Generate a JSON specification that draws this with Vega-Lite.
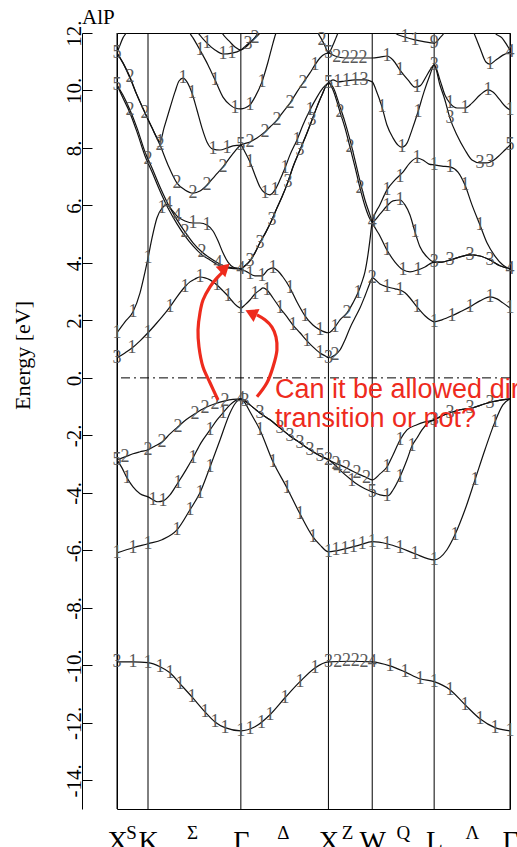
{
  "$schema": "https://vega.github.io/schema/vega-lite/v6.json",
  "width": 393,
  "height": 776,
  "autosize": {"type": "none"},
  "padding": {"left": 117, "top": 33, "right": 7, "bottom": 38},
  "background": "white",
  "datasets": {
    "sym": [{"k": 0}, {"k": 0.354}, {"k": 1.414}, {"k": 2.414}, {"k": 2.914}, {"k": 3.621}, {"k": 4.487}],
    "fermi": [{"E": 0}],
    "heading": [{"k": -0.40, "E": 12.31, "t": "AlP"}],
    "bands": [
      {"b":"v0","k":0,"E":-9.88},{"b":"v0","k":0.183,"E":-9.88},{"b":"v0","k":0.354,"E":-9.91},{"b":"v0","k":0.491,"E":-10.05},{"b":"v0","k":0.605,"E":-10.26},{"b":"v0","k":0.719,"E":-10.64},{"b":"v0","k":0.856,"E":-11.10},{"b":"v0","k":1.005,"E":-11.62},{"b":"v0","k":1.119,"E":-11.97},{"b":"v0","k":1.233,"E":-12.17},{"b":"v0","k":1.414,"E":-12.28},{"b":"v0","k":1.575,"E":-12.14},{"b":"v0","k":1.747,"E":-11.72},{"b":"v0","k":1.918,"E":-11.13},{"b":"v0","k":2.089,"E":-10.57},{"b":"v0","k":2.260,"E":-10.09},{"b":"v0","k":2.414,"E":-9.88},{"b":"v0","k":2.66,"E":-9.86},{"b":"v0","k":2.914,"E":-9.88},{"b":"v0","k":3.116,"E":-10.02},{"b":"v0","k":3.288,"E":-10.23},{"b":"v0","k":3.459,"E":-10.47},{"b":"v0","k":3.621,"E":-10.57},{"b":"v0","k":3.801,"E":-10.85},{"b":"v0","k":3.973,"E":-11.37},{"b":"v0","k":4.144,"E":-11.86},{"b":"v0","k":4.315,"E":-12.17},{"b":"v0","k":4.487,"E":-12.28},

      {"b":"v1","k":0,"E":-6.09},{"b":"v1","k":0.183,"E":-5.91},{"b":"v1","k":0.354,"E":-5.77},{"b":"v1","k":0.514,"E":-5.63},{"b":"v1","k":0.685,"E":-5.29},{"b":"v1","k":0.833,"E":-4.59},{"b":"v1","k":0.947,"E":-4.00},{"b":"v1","k":1.062,"E":-3.10},{"b":"v1","k":1.176,"E":-2.16},{"b":"v1","k":1.290,"E":-1.22},{"b":"v1","k":1.347,"E":-0.90},{"b":"v1","k":1.414,"E":-0.73},{"b":"v1","k":1.461,"E":-0.87},{"b":"v1","k":1.518,"E":-1.18},{"b":"v1","k":1.632,"E":-1.81},{"b":"v1","k":1.781,"E":-2.92},{"b":"v1","k":1.941,"E":-3.83},{"b":"v1","k":2.089,"E":-4.73},{"b":"v1","k":2.237,"E":-5.53},{"b":"v1","k":2.317,"E":-5.81},{"b":"v1","k":2.414,"E":-6.05},{"b":"v1","k":2.603,"E":-5.95},{"b":"v1","k":2.774,"E":-5.81},{"b":"v1","k":2.914,"E":-5.70},{"b":"v1","k":3.082,"E":-5.77},{"b":"v1","k":3.231,"E":-5.91},{"b":"v1","k":3.402,"E":-6.12},{"b":"v1","k":3.621,"E":-6.33},{"b":"v1","k":3.767,"E":-5.98},{"b":"v1","k":3.858,"E":-5.46},{"b":"v1","k":3.973,"E":-4.59},{"b":"v1","k":4.087,"E":-3.55},{"b":"v1","k":4.201,"E":-2.50},{"b":"v1","k":4.315,"E":-1.53},{"b":"v1","k":4.406,"E":-0.94},{"b":"v1","k":4.487,"E":-0.73},

      {"b":"v2","k":0,"E":-2.85},{"b":"v2","k":0.057,"E":-3.13},{"b":"v2","k":0.114,"E":-3.48},{"b":"v2","k":0.183,"E":-3.79},{"b":"v2","k":0.263,"E":-4.03},{"b":"v2","k":0.354,"E":-4.14},{"b":"v2","k":0.468,"E":-4.31},{"b":"v2","k":0.525,"E":-4.28},{"b":"v2","k":0.605,"E":-4.07},{"b":"v2","k":0.696,"E":-3.65},{"b":"v2","k":0.788,"E":-3.20},{"b":"v2","k":0.868,"E":-2.78},{"b":"v2","k":0.959,"E":-2.26},{"b":"v2","k":1.062,"E":-1.81},{"b":"v2","k":1.142,"E":-1.46},{"b":"v2","k":1.210,"E":-1.22},{"b":"v2","k":1.290,"E":-0.94},{"b":"v2","k":1.347,"E":-0.80},{"b":"v2","k":1.414,"E":-0.73},{"b":"v2","k":1.461,"E":-0.80},{"b":"v2","k":1.518,"E":-0.94},{"b":"v2","k":1.632,"E":-1.22},{"b":"v2","k":1.747,"E":-1.46},{"b":"v2","k":1.861,"E":-1.74},{"b":"v2","k":1.975,"E":-2.02},{"b":"v2","k":2.089,"E":-2.26},{"b":"v2","k":2.203,"E":-2.50},{"b":"v2","k":2.317,"E":-2.71},{"b":"v2","k":2.414,"E":-2.85},{"b":"v2","k":2.489,"E":-3.03},{"b":"v2","k":2.568,"E":-3.27},{"b":"v2","k":2.660,"E":-3.51},{"b":"v2","k":2.751,"E":-3.72},{"b":"v2","k":2.831,"E":-3.86},{"b":"v2","k":2.914,"E":-3.97},{"b":"v2","k":3.002,"E":-4.07},{"b":"v2","k":3.094,"E":-4.10},{"b":"v2","k":3.151,"E":-3.90},{"b":"v2","k":3.231,"E":-3.44},{"b":"v2","k":3.311,"E":-2.85},{"b":"v2","k":3.368,"E":-2.37},{"b":"v2","k":3.425,"E":-2.09},{"b":"v2","k":3.482,"E":-1.81},{"b":"v2","k":3.550,"E":-1.57},{"b":"v2","k":3.621,"E":-1.46},{"b":"v2","k":3.710,"E":-1.32},{"b":"v2","k":3.801,"E":-1.22},{"b":"v2","k":3.916,"E":-1.11},{"b":"v2","k":4.064,"E":-1.04},{"b":"v2","k":4.201,"E":-0.90},{"b":"v2","k":4.338,"E":-0.80},{"b":"v2","k":4.487,"E":-0.73},

      {"b":"v3","k":0,"E":-2.85},{"b":"v3","k":0.091,"E":-2.75},{"b":"v3","k":0.183,"E":-2.64},{"b":"v3","k":0.263,"E":-2.57},{"b":"v3","k":0.354,"E":-2.50},{"b":"v3","k":0.434,"E":-2.37},{"b":"v3","k":0.514,"E":-2.23},{"b":"v3","k":0.605,"E":-1.95},{"b":"v3","k":0.696,"E":-1.70},{"b":"v3","k":0.788,"E":-1.46},{"b":"v3","k":0.890,"E":-1.25},{"b":"v3","k":1.005,"E":-1.04},{"b":"v3","k":1.119,"E":-0.90},{"b":"v3","k":1.233,"E":-0.80},{"b":"v3","k":1.324,"E":-0.75},{"b":"v3","k":1.414,"E":-0.73},{"b":"v3","k":1.461,"E":-0.80},{"b":"v3","k":1.518,"E":-0.94},{"b":"v3","k":1.632,"E":-1.22},{"b":"v3","k":1.747,"E":-1.46},{"b":"v3","k":1.861,"E":-1.74},{"b":"v3","k":1.975,"E":-2.02},{"b":"v3","k":2.089,"E":-2.26},{"b":"v3","k":2.203,"E":-2.50},{"b":"v3","k":2.317,"E":-2.71},{"b":"v3","k":2.414,"E":-2.85},{"b":"v3","k":2.489,"E":-2.96},{"b":"v3","k":2.568,"E":-3.06},{"b":"v3","k":2.660,"E":-3.20},{"b":"v3","k":2.751,"E":-3.34},{"b":"v3","k":2.831,"E":-3.44},{"b":"v3","k":2.914,"E":-3.55},{"b":"v3","k":3.002,"E":-3.34},{"b":"v3","k":3.082,"E":-3.10},{"b":"v3","k":3.151,"E":-2.68},{"b":"v3","k":3.231,"E":-2.16},{"b":"v3","k":3.311,"E":-1.81},{"b":"v3","k":3.425,"E":-1.63},{"b":"v3","k":3.516,"E":-1.53},{"b":"v3","k":3.621,"E":-1.46},{"b":"v3","k":3.710,"E":-1.32},{"b":"v3","k":3.801,"E":-1.22},{"b":"v3","k":3.916,"E":-1.11},{"b":"v3","k":4.064,"E":-1.04},{"b":"v3","k":4.201,"E":-0.90},{"b":"v3","k":4.338,"E":-0.80},{"b":"v3","k":4.487,"E":-0.73},

      {"b":"c0","k":0,"E":0.70},{"b":"c0","k":0.091,"E":0.87},{"b":"c0","k":0.171,"E":1.04},{"b":"c0","k":0.263,"E":1.29},{"b":"c0","k":0.354,"E":1.57},{"b":"c0","k":0.434,"E":1.84},{"b":"c0","k":0.514,"E":2.12},{"b":"c0","k":0.605,"E":2.47},{"b":"c0","k":0.685,"E":2.82},{"b":"c0","k":0.776,"E":3.17},{"b":"c0","k":0.833,"E":3.34},{"b":"c0","k":0.890,"E":3.44},{"b":"c0","k":0.947,"E":3.51},{"b":"c0","k":1.005,"E":3.48},{"b":"c0","k":1.062,"E":3.41},{"b":"c0","k":1.142,"E":3.23},{"b":"c0","k":1.210,"E":3.03},{"b":"c0","k":1.267,"E":2.85},{"b":"c0","k":1.324,"E":2.64},{"b":"c0","k":1.370,"E":2.50},{"b":"c0","k":1.414,"E":2.43},{"b":"c0","k":1.461,"E":2.54},{"b":"c0","k":1.518,"E":2.71},{"b":"c0","k":1.575,"E":2.92},{"b":"c0","k":1.632,"E":3.06},{"b":"c0","k":1.667,"E":3.13},{"b":"c0","k":1.712,"E":3.06},{"b":"c0","k":1.781,"E":2.78},{"b":"c0","k":1.861,"E":2.43},{"b":"c0","k":1.941,"E":2.12},{"b":"c0","k":2.009,"E":1.84},{"b":"c0","k":2.089,"E":1.57},{"b":"c0","k":2.169,"E":1.29},{"b":"c0","k":2.237,"E":1.08},{"b":"c0","k":2.317,"E":0.87},{"b":"c0","k":2.374,"E":0.77},{"b":"c0","k":2.414,"E":0.70},{"b":"c0","k":2.489,"E":0.80},{"b":"c0","k":2.546,"E":0.97},{"b":"c0","k":2.603,"E":1.32},{"b":"c0","k":2.660,"E":1.74},{"b":"c0","k":2.717,"E":2.09},{"b":"c0","k":2.774,"E":2.43},{"b":"c0","k":2.831,"E":2.85},{"b":"c0","k":2.888,"E":3.30},{"b":"c0","k":2.914,"E":3.48},{"b":"c0","k":3.002,"E":3.27},{"b":"c0","k":3.082,"E":3.17},{"b":"c0","k":3.174,"E":3.10},{"b":"c0","k":3.231,"E":3.06},{"b":"c0","k":3.288,"E":2.96},{"b":"c0","k":3.345,"E":2.78},{"b":"c0","k":3.425,"E":2.47},{"b":"c0","k":3.516,"E":2.16},{"b":"c0","k":3.573,"E":2.02},{"b":"c0","k":3.621,"E":1.95},{"b":"c0","k":3.710,"E":2.02},{"b":"c0","k":3.824,"E":2.16},{"b":"c0","k":3.938,"E":2.33},{"b":"c0","k":4.030,"E":2.47},{"b":"c0","k":4.144,"E":2.68},{"b":"c0","k":4.258,"E":2.82},{"b":"c0","k":4.338,"E":2.75},{"b":"c0","k":4.406,"E":2.61},{"b":"c0","k":4.487,"E":2.43},

      {"b":"c1","k":0,"E":1.57},{"b":"c1","k":0.091,"E":1.95},{"b":"c1","k":0.183,"E":2.30},{"b":"c1","k":0.263,"E":2.96},{"b":"c1","k":0.320,"E":3.69},{"b":"c1","k":0.354,"E":4.17},{"b":"c1","k":0.400,"E":4.87},{"b":"c1","k":0.457,"E":5.57},{"b":"c1","k":0.514,"E":5.91},{"b":"c1","k":0.571,"E":6.02},{"b":"c1","k":0.628,"E":5.84},{"b":"c1","k":0.685,"E":5.63},{"b":"c1","k":0.776,"E":5.46},{"b":"c1","k":0.868,"E":5.39},{"b":"c1","k":0.947,"E":5.39},{"b":"c1","k":1.027,"E":5.32},{"b":"c1","k":1.096,"E":5.11},{"b":"c1","k":1.153,"E":4.77},{"b":"c1","k":1.210,"E":4.35},{"b":"c1","k":1.267,"E":4.03},{"b":"c1","k":1.324,"E":3.86},{"b":"c1","k":1.414,"E":3.79},{"b":"c1","k":1.484,"E":3.69},{"b":"c1","k":1.575,"E":3.55},{"b":"c1","k":1.655,"E":3.55},{"b":"c1","k":1.724,"E":3.76},{"b":"c1","k":1.781,"E":3.83},{"b":"c1","k":1.838,"E":3.72},{"b":"c1","k":1.895,"E":3.51},{"b":"c1","k":1.975,"E":3.13},{"b":"c1","k":2.055,"E":2.64},{"b":"c1","k":2.146,"E":2.16},{"b":"c1","k":2.237,"E":1.84},{"b":"c1","k":2.317,"E":1.67},{"b":"c1","k":2.414,"E":1.57},{"b":"c1","k":2.489,"E":1.77},{"b":"c1","k":2.546,"E":2.02},{"b":"c1","k":2.626,"E":2.26},{"b":"c1","k":2.694,"E":2.61},{"b":"c1","k":2.751,"E":2.96},{"b":"c1","k":2.797,"E":3.34},{"b":"c1","k":2.831,"E":3.69},{"b":"c1","k":2.865,"E":4.28},{"b":"c1","k":2.888,"E":4.80},{"b":"c1","k":2.914,"E":5.43},{"b":"c1","k":3.002,"E":6.02},{"b":"c1","k":3.082,"E":6.54},{"b":"c1","k":3.174,"E":6.89},{"b":"c1","k":3.265,"E":7.16},{"b":"c1","k":3.345,"E":7.48},{"b":"c1","k":3.425,"E":7.65},{"b":"c1","k":3.493,"E":7.58},{"b":"c1","k":3.562,"E":7.44},{"b":"c1","k":3.621,"E":7.41},{"b":"c1","k":3.710,"E":7.37},{"b":"c1","k":3.801,"E":7.34},{"b":"c1","k":3.893,"E":7.16},{"b":"c1","k":3.973,"E":6.71},{"b":"c1","k":4.053,"E":6.02},{"b":"c1","k":4.144,"E":5.32},{"b":"c1","k":4.224,"E":4.70},{"b":"c1","k":4.315,"E":4.24},{"b":"c1","k":4.406,"E":3.93},{"b":"c1","k":4.487,"E":3.79},

      {"b":"c2","k":0,"E":10.19},{"b":"c2","k":0.068,"E":9.84},{"b":"c2","k":0.148,"E":9.32},{"b":"c2","k":0.228,"E":8.70},{"b":"c2","k":0.320,"E":7.86},{"b":"c2","k":0.400,"E":7.30},{"b":"c2","k":0.491,"E":6.64},{"b":"c2","k":0.582,"E":6.05},{"b":"c2","k":0.685,"E":5.50},{"b":"c2","k":0.776,"E":5.08},{"b":"c2","k":0.868,"E":4.70},{"b":"c2","k":0.970,"E":4.38},{"b":"c2","k":1.062,"E":4.17},{"b":"c2","k":1.153,"E":4.00},{"b":"c2","k":1.256,"E":3.86},{"b":"c2","k":1.324,"E":3.83},{"b":"c2","k":1.414,"E":3.79},{"b":"c2","k":1.461,"E":3.90},{"b":"c2","k":1.518,"E":4.07},{"b":"c2","k":1.575,"E":4.35},{"b":"c2","k":1.632,"E":4.70},{"b":"c2","k":1.701,"E":5.08},{"b":"c2","k":1.769,"E":5.50},{"b":"c2","k":1.826,"E":5.91},{"b":"c2","k":1.884,"E":6.30},{"b":"c2","k":1.952,"E":6.82},{"b":"c2","k":2.009,"E":7.34},{"b":"c2","k":2.089,"E":7.93},{"b":"c2","k":2.169,"E":8.52},{"b":"c2","k":2.226,"E":8.97},{"b":"c2","k":2.283,"E":9.43},{"b":"c2","k":2.340,"E":9.84},{"b":"c2","k":2.414,"E":10.26},{"b":"c2","k":2.466,"E":10.02},{"b":"c2","k":2.546,"E":9.25},{"b":"c2","k":2.603,"E":8.70},{"b":"c2","k":2.660,"E":8.03},{"b":"c2","k":2.717,"E":7.34},{"b":"c2","k":2.774,"E":6.61},{"b":"c2","k":2.831,"E":5.98},{"b":"c2","k":2.888,"E":5.53},{"b":"c2","k":2.914,"E":5.43},{"b":"c2","k":3.002,"E":5.70},{"b":"c2","k":3.082,"E":5.98},{"b":"c2","k":3.151,"E":6.16},{"b":"c2","k":3.231,"E":6.19},{"b":"c2","k":3.288,"E":6.02},{"b":"c2","k":3.345,"E":5.67},{"b":"c2","k":3.402,"E":5.08},{"b":"c2","k":3.459,"E":4.56},{"b":"c2","k":3.539,"E":4.21},{"b":"c2","k":3.621,"E":4.03},{"b":"c2","k":3.710,"E":4.03},{"b":"c2","k":3.801,"E":4.10},{"b":"c2","k":3.916,"E":4.21},{"b":"c2","k":4.030,"E":4.28},{"b":"c2","k":4.144,"E":4.24},{"b":"c2","k":4.258,"E":4.10},{"b":"c2","k":4.372,"E":3.90},{"b":"c2","k":4.487,"E":3.79},

      {"b":"c3","k":0,"E":10.19},{"b":"c3","k":0.068,"E":9.74},{"b":"c3","k":0.148,"E":9.22},{"b":"c3","k":0.228,"E":8.56},{"b":"c3","k":0.320,"E":7.72},{"b":"c3","k":0.400,"E":7.16},{"b":"c3","k":0.491,"E":6.50},{"b":"c3","k":0.582,"E":5.91},{"b":"c3","k":0.685,"E":5.36},{"b":"c3","k":0.776,"E":4.94},{"b":"c3","k":0.868,"E":4.59},{"b":"c3","k":0.970,"E":4.28},{"b":"c3","k":1.062,"E":4.10},{"b":"c3","k":1.153,"E":3.93},{"b":"c3","k":1.256,"E":3.83},{"b":"c3","k":1.414,"E":3.79},{"b":"c3","k":1.461,"E":3.90},{"b":"c3","k":1.518,"E":4.07},{"b":"c3","k":1.575,"E":4.35},{"b":"c3","k":1.632,"E":4.70},{"b":"c3","k":1.701,"E":5.08},{"b":"c3","k":1.769,"E":5.50},{"b":"c3","k":1.826,"E":5.91},{"b":"c3","k":1.884,"E":6.30},{"b":"c3","k":1.952,"E":6.82},{"b":"c3","k":2.009,"E":7.34},{"b":"c3","k":2.089,"E":7.93},{"b":"c3","k":2.169,"E":8.52},{"b":"c3","k":2.226,"E":8.97},{"b":"c3","k":2.283,"E":9.43},{"b":"c3","k":2.340,"E":9.84},{"b":"c3","k":2.414,"E":10.26},{"b":"c3","k":2.466,"E":10.12},{"b":"c3","k":2.546,"E":9.43},{"b":"c3","k":2.603,"E":8.90},{"b":"c3","k":2.660,"E":8.28},{"b":"c3","k":2.717,"E":7.58},{"b":"c3","k":2.774,"E":6.85},{"b":"c3","k":2.831,"E":6.19},{"b":"c3","k":2.888,"E":5.67},{"b":"c3","k":2.914,"E":5.43},{"b":"c3","k":3.002,"E":4.94},{"b":"c3","k":3.082,"E":4.45},{"b":"c3","k":3.174,"E":4.03},{"b":"c3","k":3.265,"E":3.76},{"b":"c3","k":3.345,"E":3.69},{"b":"c3","k":3.436,"E":3.76},{"b":"c3","k":3.516,"E":3.86},{"b":"c3","k":3.621,"E":4.03},{"b":"c3","k":3.710,"E":4.03},{"b":"c3","k":3.801,"E":4.10},{"b":"c3","k":3.916,"E":4.21},{"b":"c3","k":4.030,"E":4.28},{"b":"c3","k":4.144,"E":4.24},{"b":"c3","k":4.258,"E":4.10},{"b":"c3","k":4.372,"E":3.90},{"b":"c3","k":4.487,"E":3.79},

      {"b":"c4","k":0,"E":11.30},{"b":"c4","k":0.068,"E":10.96},{"b":"c4","k":0.148,"E":10.47},{"b":"c4","k":0.228,"E":9.84},{"b":"c4","k":0.320,"E":9.22},{"b":"c4","k":0.400,"E":8.70},{"b":"c4","k":0.491,"E":8.10},{"b":"c4","k":0.582,"E":7.41},{"b":"c4","k":0.685,"E":6.78},{"b":"c4","k":0.776,"E":6.54},{"b":"c4","k":0.868,"E":6.43},{"b":"c4","k":0.947,"E":6.50},{"b":"c4","k":1.027,"E":6.71},{"b":"c4","k":1.119,"E":7.03},{"b":"c4","k":1.210,"E":7.34},{"b":"c4","k":1.313,"E":7.76},{"b":"c4","k":1.414,"E":8.10},{"b":"c4","k":1.518,"E":8.21},{"b":"c4","k":1.598,"E":8.35},{"b":"c4","k":1.689,"E":8.56},{"b":"c4","k":1.747,"E":8.73},{"b":"c4","k":1.826,"E":8.97},{"b":"c4","k":1.895,"E":9.25},{"b":"c4","k":1.975,"E":9.56},{"b":"c4","k":2.055,"E":9.95},{"b":"c4","k":2.123,"E":10.26},{"b":"c4","k":2.203,"E":10.61},{"b":"c4","k":2.260,"E":10.89},{"b":"c4","k":2.317,"E":11.13},{"b":"c4","k":2.374,"E":11.27},{"b":"c4","k":2.414,"E":11.30},{"b":"c4","k":2.489,"E":11.20},{"b":"c4","k":2.603,"E":11.13},{"b":"c4","k":2.717,"E":11.13},{"b":"c4","k":2.831,"E":11.13},{"b":"c4","k":2.914,"E":11.13},{"b":"c4","k":3.002,"E":11.16},{"b":"c4","k":3.082,"E":11.20},{"b":"c4","k":3.151,"E":11.06},{"b":"c4","k":3.231,"E":10.71},{"b":"c4","k":3.322,"E":10.37},{"b":"c4","k":3.402,"E":10.12},{"b":"c4","k":3.459,"E":10.16},{"b":"c4","k":3.527,"E":10.47},{"b":"c4","k":3.573,"E":10.71},{"b":"c4","k":3.621,"E":10.89},{"b":"c4","k":3.687,"E":10.19},{"b":"c4","k":3.744,"E":9.67},{"b":"c4","k":3.801,"E":9.04},{"b":"c4","k":3.881,"E":8.45},{"b":"c4","k":3.973,"E":7.93},{"b":"c4","k":4.053,"E":7.58},{"b":"c4","k":4.144,"E":7.48},{"b":"c4","k":4.224,"E":7.48},{"b":"c4","k":4.304,"E":7.58},{"b":"c4","k":4.372,"E":7.76},{"b":"c4","k":4.429,"E":7.93},{"b":"c4","k":4.487,"E":8.10},

      {"b":"c5","k":0,"E":11.30},{"b":"c5","k":0.068,"E":10.96},{"b":"c5","k":0.148,"E":10.43},{"b":"c5","k":0.228,"E":9.84},{"b":"c5","k":0.320,"E":9.22},{"b":"c5","k":0.400,"E":8.70},{"b":"c5","k":0.457,"E":8.35},{"b":"c5","k":0.491,"E":8.21},{"b":"c5","k":0.537,"E":8.70},{"b":"c5","k":0.605,"E":9.39},{"b":"c5","k":0.662,"E":9.95},{"b":"c5","k":0.708,"E":10.33},{"b":"c5","k":0.753,"E":10.43},{"b":"c5","k":0.799,"E":10.30},{"b":"c5","k":0.856,"E":9.91},{"b":"c5","k":0.913,"E":9.32},{"b":"c5","k":0.970,"E":8.70},{"b":"c5","k":1.027,"E":8.21},{"b":"c5","k":1.096,"E":7.96},{"b":"c5","k":1.176,"E":7.93},{"b":"c5","k":1.256,"E":8.00},{"b":"c5","k":1.324,"E":8.07},{"b":"c5","k":1.414,"E":8.10},{"b":"c5","k":1.461,"E":7.86},{"b":"c5","k":1.518,"E":7.51},{"b":"c5","k":1.575,"E":7.06},{"b":"c5","k":1.632,"E":6.64},{"b":"c5","k":1.689,"E":6.43},{"b":"c5","k":1.747,"E":6.37},{"b":"c5","k":1.804,"E":6.54},{"b":"c5","k":1.861,"E":6.89},{"b":"c5","k":1.918,"E":7.30},{"b":"c5","k":1.975,"E":7.76},{"b":"c5","k":2.055,"E":8.28},{"b":"c5","k":2.123,"E":8.80},{"b":"c5","k":2.203,"E":9.32},{"b":"c5","k":2.283,"E":9.77},{"b":"c5","k":2.352,"E":10.09},{"b":"c5","k":2.414,"E":10.26},{"b":"c5","k":2.466,"E":10.37},{"b":"c5","k":2.523,"E":10.30},{"b":"c5","k":2.603,"E":10.33},{"b":"c5","k":2.717,"E":10.37},{"b":"c5","k":2.831,"E":10.37},{"b":"c5","k":2.914,"E":10.30},{"b":"c5","k":2.957,"E":10.02},{"b":"c5","k":3.025,"E":9.43},{"b":"c5","k":3.082,"E":8.80},{"b":"c5","k":3.151,"E":8.35},{"b":"c5","k":3.208,"E":8.10},{"b":"c5","k":3.253,"E":8.03},{"b":"c5","k":3.311,"E":8.17},{"b":"c5","k":3.368,"E":8.63},{"b":"c5","k":3.436,"E":9.25},{"b":"c5","k":3.505,"E":9.95},{"b":"c5","k":3.573,"E":10.54},{"b":"c5","k":3.621,"E":10.89},{"b":"c5","k":3.687,"E":10.37},{"b":"c5","k":3.744,"E":9.84},{"b":"c5","k":3.801,"E":9.56},{"b":"c5","k":3.881,"E":9.39},{"b":"c5","k":3.973,"E":9.39},{"b":"c5","k":4.053,"E":9.56},{"b":"c5","k":4.144,"E":9.84},{"b":"c5","k":4.235,"E":10.02},{"b":"c5","k":4.292,"E":9.95},{"b":"c5","k":4.372,"E":9.67},{"b":"c5","k":4.429,"E":9.46},{"b":"c5","k":4.487,"E":9.32},

      {"b":"c6","k":0.81,"E":12.2},{"b":"c6","k":0.833,"E":12.0},{"b":"c6","k":0.868,"E":11.83},{"b":"c6","k":0.947,"E":11.41},{"b":"c6","k":1.039,"E":10.89},{"b":"c6","k":1.119,"E":10.37},{"b":"c6","k":1.210,"E":9.77},{"b":"c6","k":1.290,"E":9.50},{"b":"c6","k":1.347,"E":9.39},{"b":"c6","k":1.414,"E":9.36},{"b":"c6","k":1.461,"E":9.39},{"b":"c6","k":1.518,"E":9.50},{"b":"c6","k":1.575,"E":9.77},{"b":"c6","k":1.655,"E":10.30},{"b":"c6","k":1.724,"E":10.99},{"b":"c6","k":1.781,"E":11.65},{"b":"c6","k":1.815,"E":12.0},{"b":"c6","k":1.84,"E":12.2},

      {"b":"c7","k":0,"E":11.30},{"b":"c7","k":0.034,"E":11.58},{"b":"c7","k":0.068,"E":11.83},{"b":"c7","k":0.103,"E":12.0},{"b":"c7","k":0.13,"E":12.2},

      {"b":"c8","k":0.90,"E":12.1},{"b":"c8","k":0.925,"E":12.0},{"b":"c8","k":1.027,"E":11.65},{"b":"c8","k":1.119,"E":11.41},{"b":"c8","k":1.210,"E":11.27},{"b":"c8","k":1.313,"E":11.30},{"b":"c8","k":1.414,"E":11.41},{"b":"c8","k":1.495,"E":11.62},{"b":"c8","k":1.575,"E":11.83},{"b":"c8","k":1.632,"E":12.0},{"b":"c8","k":1.66,"E":12.1},

      {"b":"c9","k":1.18,"E":12.1},{"b":"c9","k":1.199,"E":12.0},{"b":"c9","k":1.290,"E":11.69},{"b":"c9","k":1.347,"E":11.51},{"b":"c9","k":1.414,"E":11.41},{"b":"c9","k":1.484,"E":11.55},{"b":"c9","k":1.553,"E":11.76},{"b":"c9","k":1.610,"E":12.0},{"b":"c9","k":1.63,"E":12.1},

      {"b":"c10","k":2.28,"E":12.1},{"b":"c10","k":2.295,"E":12.0},{"b":"c10","k":2.340,"E":11.76},{"b":"c10","k":2.374,"E":11.55},{"b":"c10","k":2.414,"E":11.30},{"b":"c10","k":2.466,"E":11.58},{"b":"c10","k":2.500,"E":11.83},{"b":"c10","k":2.523,"E":12.0},{"b":"c10","k":2.54,"E":12.1},

      {"b":"c11","k":3.15,"E":12.1},{"b":"c11","k":3.174,"E":12.0},{"b":"c11","k":3.288,"E":11.86},{"b":"c11","k":3.402,"E":11.76},{"b":"c11","k":3.516,"E":11.69},{"b":"c11","k":3.621,"E":11.65},{"b":"c11","k":3.687,"E":11.83},{"b":"c11","k":3.733,"E":12.0},{"b":"c11","k":3.75,"E":12.1},

      {"b":"c12","k":4.06,"E":12.1},{"b":"c12","k":4.075,"E":12.0},{"b":"c12","k":4.144,"E":11.48},{"b":"c12","k":4.212,"E":10.99},{"b":"c12","k":4.258,"E":10.92},{"b":"c12","k":4.326,"E":11.06},{"b":"c12","k":4.406,"E":11.23},{"b":"c12","k":4.487,"E":11.34},

      {"b":"c13","k":4.30,"E":12.1},{"b":"c13","k":4.315,"E":12.0},{"b":"c13","k":4.395,"E":11.83},{"b":"c13","k":4.452,"E":11.58},{"b":"c13","k":4.487,"E":11.41}
    ],
    "irreps": [
      {"k":0,"E":-9.88,"t":"3"},{"k":0.183,"E":-9.88,"t":"1"},{"k":0.354,"E":-9.91,"t":"1"},{"k":0.491,"E":-10.05,"t":"1"},{"k":0.605,"E":-10.26,"t":"1"},{"k":0.719,"E":-10.64,"t":"1"},{"k":0.856,"E":-11.10,"t":"1"},{"k":1.005,"E":-11.62,"t":"1"},{"k":1.119,"E":-11.97,"t":"1"},{"k":1.233,"E":-12.17,"t":"1"},{"k":1.414,"E":-12.28,"t":"1"},{"k":1.518,"E":-12.2,"t":"1"},{"k":1.650,"E":-12.0,"t":"1"},{"k":1.747,"E":-11.72,"t":"1"},{"k":1.918,"E":-11.13,"t":"1"},{"k":2.089,"E":-10.57,"t":"1"},{"k":2.260,"E":-10.09,"t":"1"},{"k":2.414,"E":-9.88,"t":"3"},{"k":2.52,"E":-9.87,"t":"2"},{"k":2.62,"E":-9.86,"t":"2"},{"k":2.72,"E":-9.86,"t":"2"},{"k":2.82,"E":-9.87,"t":"2"},{"k":2.914,"E":-9.88,"t":"4"},{"k":3.116,"E":-10.02,"t":"1"},{"k":3.288,"E":-10.23,"t":"1"},{"k":3.459,"E":-10.47,"t":"1"},{"k":3.621,"E":-10.57,"t":"1"},{"k":3.801,"E":-10.85,"t":"1"},{"k":3.973,"E":-11.37,"t":"1"},{"k":4.144,"E":-11.86,"t":"1"},{"k":4.315,"E":-12.17,"t":"1"},{"k":4.487,"E":-12.28,"t":"1"},

      {"k":0,"E":-6.09,"t":"1"},{"k":0.183,"E":-5.91,"t":"1"},{"k":0.354,"E":-5.77,"t":"1"},{"k":0.685,"E":-5.29,"t":"1"},{"k":0.833,"E":-4.59,"t":"1"},{"k":0.947,"E":-4.0,"t":"1"},{"k":1.062,"E":-3.10,"t":"1"},{"k":1.632,"E":-1.81,"t":"1"},{"k":1.781,"E":-2.92,"t":"1"},{"k":1.941,"E":-3.83,"t":"1"},{"k":2.089,"E":-4.73,"t":"1"},{"k":2.237,"E":-5.53,"t":"1"},{"k":2.414,"E":-6.05,"t":"1"},{"k":2.50,"E":-6.0,"t":"1"},{"k":2.603,"E":-5.95,"t":"1"},{"k":2.70,"E":-5.88,"t":"1"},{"k":2.80,"E":-5.78,"t":"1"},{"k":2.914,"E":-5.70,"t":"1"},{"k":3.082,"E":-5.77,"t":"1"},{"k":3.231,"E":-5.91,"t":"1"},{"k":3.402,"E":-6.12,"t":"1"},{"k":3.621,"E":-6.33,"t":"1"},{"k":3.858,"E":-5.46,"t":"1"},{"k":4.087,"E":-3.55,"t":"1"},{"k":4.315,"E":-1.53,"t":"1"},

      {"k":0,"E":-2.85,"t":"5"},{"k":0.091,"E":-2.75,"t":"2"},{"k":0.354,"E":-2.50,"t":"2"},{"k":0.514,"E":-2.23,"t":"2"},{"k":0.696,"E":-1.70,"t":"2"},{"k":0.890,"E":-1.25,"t":"2"},{"k":1.005,"E":-1.04,"t":"2"},{"k":1.119,"E":-0.90,"t":"2"},{"k":1.233,"E":-0.80,"t":"2"},{"k":1.414,"E":-0.73,"t":"4"},{"k":0.114,"E":-3.48,"t":"1"},{"k":0.411,"E":-4.25,"t":"1"},{"k":0.525,"E":-4.28,"t":"1"},{"k":0.696,"E":-3.65,"t":"1"},{"k":0.868,"E":-2.78,"t":"1"},{"k":1.062,"E":-1.81,"t":"1"},{"k":1.210,"E":-1.22,"t":"1"},{"k":1.461,"E":-0.80,"t":"3"},{"k":1.632,"E":-1.22,"t":"3"},{"k":1.861,"E":-1.74,"t":"3"},{"k":1.975,"E":-2.02,"t":"3"},{"k":2.089,"E":-2.26,"t":"3"},{"k":2.203,"E":-2.50,"t":"3"},{"k":2.317,"E":-2.71,"t":"5"},{"k":2.414,"E":-2.85,"t":"2"},{"k":2.50,"E":-2.98,"t":"2"},{"k":2.62,"E":-3.13,"t":"2"},{"k":2.74,"E":-3.32,"t":"2"},{"k":2.85,"E":-3.47,"t":"2"},{"k":2.52,"E":-3.13,"t":"4"},{"k":2.68,"E":-3.58,"t":"1"},{"k":2.914,"E":-3.97,"t":"5"},{"k":3.082,"E":-4.10,"t":"1"},{"k":3.231,"E":-3.44,"t":"1"},{"k":3.368,"E":-2.37,"t":"1"},{"k":3.082,"E":-3.10,"t":"1"},{"k":3.231,"E":-2.16,"t":"1"},{"k":3.621,"E":-1.46,"t":"3"},{"k":3.801,"E":-1.22,"t":"3"},{"k":4.030,"E":-1.06,"t":"3"},{"k":4.258,"E":-0.86,"t":"3"},

      {"k":0,"E":0.70,"t":"3"},{"k":0.171,"E":1.04,"t":"1"},{"k":0.354,"E":1.57,"t":"1"},{"k":0.605,"E":2.47,"t":"1"},{"k":0.776,"E":3.17,"t":"1"},{"k":0.947,"E":3.51,"t":"1"},{"k":1.142,"E":3.23,"t":"1"},{"k":1.267,"E":2.85,"t":"1"},{"k":1.414,"E":2.43,"t":"1"},{"k":1.575,"E":2.92,"t":"1"},{"k":1.712,"E":3.06,"t":"1"},{"k":1.861,"E":2.43,"t":"1"},{"k":2.009,"E":1.84,"t":"1"},{"k":2.169,"E":1.29,"t":"1"},{"k":2.317,"E":0.87,"t":"1"},{"k":2.414,"E":0.70,"t":"3"},{"k":2.489,"E":0.80,"t":"2"},{"k":2.914,"E":3.48,"t":"2"},{"k":3.082,"E":3.17,"t":"1"},{"k":3.231,"E":3.06,"t":"1"},{"k":3.425,"E":2.47,"t":"1"},{"k":3.621,"E":1.95,"t":"1"},{"k":3.824,"E":2.16,"t":"1"},{"k":4.030,"E":2.47,"t":"1"},{"k":4.258,"E":2.82,"t":"1"},{"k":4.487,"E":2.43,"t":"1"},

      {"k":0,"E":1.57,"t":"1"},{"k":0.183,"E":2.30,"t":"1"},{"k":0.354,"E":4.17,"t":"1"},{"k":0.514,"E":5.91,"t":"1"},{"k":0.685,"E":5.63,"t":"4"},{"k":0.868,"E":5.39,"t":"1"},{"k":1.027,"E":5.32,"t":"1"},{"k":1.518,"E":3.62,"t":"1"},{"k":1.655,"E":3.55,"t":"1"},{"k":1.781,"E":3.83,"t":"1"},{"k":1.975,"E":3.13,"t":"1"},{"k":2.146,"E":2.16,"t":"1"},{"k":2.317,"E":1.67,"t":"1"},{"k":2.489,"E":1.77,"t":"1"},{"k":2.626,"E":2.26,"t":"2"},{"k":2.751,"E":2.96,"t":"1"},{"k":2.914,"E":5.43,"t":"4"},{"k":3.082,"E":6.54,"t":"1"},{"k":3.231,"E":7.0,"t":"1"},{"k":3.425,"E":7.65,"t":"1"},{"k":3.621,"E":7.41,"t":"1"},{"k":3.801,"E":7.34,"t":"1"},{"k":3.973,"E":6.71,"t":"1"},{"k":4.144,"E":5.32,"t":"1"},{"k":4.487,"E":3.79,"t":"4"},

      {"k":0,"E":10.19,"t":"5"},{"k":0.148,"E":9.32,"t":"2"},{"k":0.354,"E":7.6,"t":"2"},{"k":0.582,"E":6.05,"t":"4"},{"k":0.776,"E":5.08,"t":"2"},{"k":0.970,"E":4.38,"t":"2"},{"k":1.153,"E":4.0,"t":"4"},{"k":1.414,"E":3.79,"t":"4"},{"k":1.518,"E":4.07,"t":"3"},{"k":1.632,"E":4.70,"t":"3"},{"k":1.769,"E":5.50,"t":"3"},{"k":1.952,"E":6.82,"t":"3"},{"k":2.089,"E":7.93,"t":"3"},{"k":2.226,"E":8.97,"t":"3"},{"k":2.414,"E":10.26,"t":"5"},{"k":2.546,"E":9.25,"t":"2"},{"k":2.660,"E":8.03,"t":"2"},{"k":2.774,"E":6.61,"t":"2"},{"k":3.082,"E":5.98,"t":"1"},{"k":3.231,"E":6.19,"t":"1"},{"k":3.402,"E":5.08,"t":"1"},{"k":3.082,"E":4.45,"t":"1"},{"k":3.265,"E":3.76,"t":"1"},{"k":3.436,"E":3.76,"t":"1"},{"k":3.621,"E":4.03,"t":"3"},{"k":3.801,"E":4.10,"t":"3"},{"k":4.030,"E":4.28,"t":"3"},{"k":4.258,"E":4.10,"t":"3"},

      {"k":0,"E":11.30,"t":"5"},{"k":0.148,"E":10.47,"t":"2"},{"k":0.320,"E":9.22,"t":"2"},{"k":0.491,"E":8.10,"t":"2"},{"k":0.685,"E":6.78,"t":"2"},{"k":0.868,"E":6.43,"t":"2"},{"k":1.027,"E":6.71,"t":"2"},{"k":1.210,"E":7.34,"t":"2"},{"k":1.414,"E":8.10,"t":"5"},{"k":1.518,"E":8.21,"t":"2"},{"k":1.689,"E":8.56,"t":"2"},{"k":1.826,"E":8.97,"t":"2"},{"k":1.975,"E":9.56,"t":"2"},{"k":2.123,"E":10.26,"t":"2"},{"k":2.260,"E":10.89,"t":"1"},{"k":2.414,"E":11.30,"t":"5"},{"k":2.51,"E":11.18,"t":"2"},{"k":2.61,"E":11.13,"t":"2"},{"k":2.71,"E":11.13,"t":"2"},{"k":2.81,"E":11.13,"t":"2"},{"k":3.082,"E":11.20,"t":"1"},{"k":3.231,"E":10.71,"t":"1"},{"k":3.425,"E":10.13,"t":"1"},{"k":3.621,"E":10.89,"t":"3"},{"k":3.801,"E":9.04,"t":"3"},{"k":4.144,"E":7.48,"t":"3"},{"k":4.258,"E":7.50,"t":"3"},{"k":4.487,"E":8.10,"t":"5"},

      {"k":0.491,"E":8.21,"t":"1"},{"k":0.753,"E":10.43,"t":"1"},{"k":0.856,"E":9.91,"t":"1"},{"k":1.096,"E":7.96,"t":"1"},{"k":1.256,"E":8.00,"t":"1"},{"k":1.518,"E":7.51,"t":"1"},{"k":1.689,"E":6.43,"t":"1"},{"k":1.804,"E":6.54,"t":"1"},{"k":1.918,"E":7.30,"t":"1"},{"k":2.055,"E":8.28,"t":"1"},{"k":2.203,"E":9.32,"t":"1"},{"k":2.52,"E":10.30,"t":"1"},{"k":2.62,"E":10.33,"t":"1"},{"k":2.72,"E":10.37,"t":"1"},{"k":2.82,"E":10.37,"t":"3"},{"k":3.025,"E":9.43,"t":"1"},{"k":3.253,"E":8.03,"t":"1"},{"k":3.436,"E":9.25,"t":"1"},{"k":3.801,"E":9.56,"t":"1"},{"k":3.973,"E":9.39,"t":"1"},{"k":4.235,"E":10.02,"t":"1"},{"k":4.487,"E":9.32,"t":"1"},

      {"k":0.947,"E":11.41,"t":"1"},{"k":1.119,"E":10.37,"t":"1"},{"k":1.347,"E":9.39,"t":"1"},{"k":1.518,"E":9.50,"t":"1"},{"k":1.655,"E":10.30,"t":"1"},{"k":1.027,"E":11.65,"t":"1"},{"k":1.210,"E":11.27,"t":"1"},{"k":1.313,"E":11.30,"t":"1"},{"k":1.495,"E":11.62,"t":"3"},{"k":1.575,"E":11.83,"t":"2"},{"k":2.34,"E":11.76,"t":"2"},{"k":3.288,"E":11.86,"t":"1"},{"k":3.402,"E":11.76,"t":"1"},{"k":3.621,"E":11.65,"t":"9"},{"k":4.258,"E":10.92,"t":"1"},{"k":4.487,"E":11.34,"t":"4"}
    ],
    "arrows": [
      {"a":"left","i":0,"k":1.153,"E":-0.77},{"a":"left","i":1,"k":1.062,"E":-0.17},{"a":"left","i":2,"k":0.982,"E":0.38},{"a":"left","i":3,"k":0.936,"E":1.08},{"a":"left","i":4,"k":0.925,"E":1.67},{"a":"left","i":5,"k":0.947,"E":2.26},{"a":"left","i":6,"k":0.982,"E":2.71},{"a":"left","i":7,"k":1.062,"E":3.17},{"a":"left","i":8,"k":1.142,"E":3.48},{"a":"left","i":9,"k":1.210,"E":3.69},
      {"a":"right","i":0,"k":1.598,"E":-0.66},{"a":"right","i":1,"k":1.712,"E":-0.17},{"a":"right","i":2,"k":1.781,"E":0.38},{"a":"right","i":3,"k":1.826,"E":0.97},{"a":"right","i":4,"k":1.815,"E":1.43},{"a":"right","i":5,"k":1.769,"E":1.77},{"a":"right","i":6,"k":1.689,"E":2.02},{"a":"right","i":7,"k":1.598,"E":2.19}
    ],
    "heads": [{"a":"left","k":1.233,"E":3.83},{"a":"right","k":1.530,"E":2.26}],
    "note": [{"k":1.804,"E":-0.42,"t":"Can it be allowed direct"},{"k":1.804,"E":-1.43,"t":"transition or not?"}]
  },
  "layer": [
    {
      "data": {"name": "sym"},
      "mark": {"type": "rule", "color": "black", "strokeWidth": 1},
      "encoding": {
        "x": {"field": "k", "type": "quantitative", "scale": {"domain": [0, 4.487], "nice": false, "zero": false},
          "axis": {"orient": "bottom", "values": [0, 0.354, 1.414, 2.414, 2.914, 3.621, 4.487],
            "labelExpr": "datum.value < 0.1 ? 'X' : datum.value < 0.5 ? 'K' : datum.value < 2 ? 'Γ' : datum.value < 2.6 ? 'X' : datum.value < 3.2 ? 'W' : datum.value < 4 ? 'L' : 'Γ'",
            "domain": false, "ticks": false, "tickSize": 0, "grid": false, "title": null,
            "labelPadding": 40, "labelBaseline": "alphabetic", "labelFont": "Liberation Serif", "labelFontSize": 28, "labelColor": "black",
            "labelFlush": false, "labelOverlap": false, "labelBound": false}}
      }
    },
    {
      "data": {"name": "bands"},
      "mark": {"type": "line", "color": "#111", "strokeWidth": 1.2, "interpolate": "monotone", "clip": true},
      "encoding": {
        "x": {"field": "k", "type": "quantitative", "scale": {"domain": [0, 4.487], "nice": false, "zero": false},
          "axis": {"orient": "bottom", "values": [0.16, 0.856, 1.895, 2.626, 3.265, 4.053],
            "labelExpr": "datum.value < 0.5 ? 'S' : datum.value < 1.5 ? 'Σ' : datum.value < 2.3 ? 'Δ' : datum.value < 3 ? 'Z' : datum.value < 3.5 ? 'Q' : 'Λ'",
            "domain": false, "ticks": false, "tickSize": 0, "grid": false, "title": null,
            "labelPadding": 29, "labelBaseline": "alphabetic", "labelFont": "Liberation Serif", "labelFontSize": 19, "labelColor": "black",
            "labelFlush": false, "labelOverlap": false, "labelBound": false}},
        "y": {"field": "E", "type": "quantitative", "scale": {"domain": [-15, 12], "nice": false, "zero": false},
          "axis": {"orient": "left", "offset": 35, "values": [-14, -12, -10, -8, -6, -4, -2, 0, 2, 4, 6, 8, 10, 12],
            "labelExpr": "datum.value + '.'", "labelAngle": -90, "labelAlign": "center", "labelBaseline": "alphabetic", "labelPadding": 12,
            "labelFont": "Liberation Serif", "labelFontSize": 21, "labelColor": "black", "labelOverlap": false, "labelFlush": false, "labelBound": false,
            "tickSize": -10, "tickColor": "black", "tickWidth": 1, "domainColor": "black", "domainWidth": 1, "grid": false,
            "title": "Energy [eV]", "titleFont": "Liberation Serif", "titleFontSize": 22, "titleFontWeight": "normal", "titleColor": "black",
            "titleAngle": -90, "titleX": -60, "titleY": 322, "titleBaseline": "middle", "titleAlign": "center"}},
        "detail": {"field": "b", "type": "nominal"}
      }
    },
    {
      "data": {"name": "fermi"},
      "mark": {"type": "rule", "color": "black", "strokeWidth": 1, "strokeDash": [9, 4, 2, 4]},
      "encoding": {
        "y": {"field": "E", "type": "quantitative", "scale": {"domain": [-15, 12], "nice": false, "zero": false},
          "axis": {"orient": "left", "offset": 35, "values": [-14, -12, -10, -8, -6, -4, -2, 0, 2, 4, 6, 8, 10, 12],
            "labelExpr": "datum.value + '.'", "labelAngle": -90, "labelAlign": "center", "labelBaseline": "alphabetic", "labelPadding": 12,
            "labelFont": "Liberation Serif", "labelFontSize": 21, "labelColor": "black", "labelOverlap": false, "labelFlush": false, "labelBound": false,
            "tickSize": -10, "tickColor": "black", "tickWidth": 1, "domainColor": "black", "domainWidth": 1, "grid": false,
            "title": "Energy [eV]", "titleFont": "Liberation Serif", "titleFontSize": 22, "titleFontWeight": "normal", "titleColor": "black",
            "titleAngle": -90, "titleX": -60, "titleY": 322, "titleBaseline": "middle", "titleAlign": "center"}}
      }
    },
    {
      "data": {"name": "irreps"},
      "mark": {"type": "text", "font": "Liberation Serif", "fontSize": 18, "color": "#595959", "align": "center", "baseline": "middle"},
      "encoding": {
        "x": {"field": "k", "type": "quantitative", "scale": {"domain": [0, 4.487], "nice": false, "zero": false}, "axis": null},
        "y": {"field": "E", "type": "quantitative", "scale": {"domain": [-15, 12], "nice": false, "zero": false},
          "axis": {"orient": "left", "offset": 35, "values": [-14, -12, -10, -8, -6, -4, -2, 0, 2, 4, 6, 8, 10, 12],
            "labelExpr": "datum.value + '.'", "labelAngle": -90, "labelAlign": "center", "labelBaseline": "alphabetic", "labelPadding": 12,
            "labelFont": "Liberation Serif", "labelFontSize": 21, "labelColor": "black", "labelOverlap": false, "labelFlush": false, "labelBound": false,
            "tickSize": -10, "tickColor": "black", "tickWidth": 1, "domainColor": "black", "domainWidth": 1, "grid": false,
            "title": "Energy [eV]", "titleFont": "Liberation Serif", "titleFontSize": 22, "titleFontWeight": "normal", "titleColor": "black",
            "titleAngle": -90, "titleX": -60, "titleY": 322, "titleBaseline": "middle", "titleAlign": "center"}},
        "text": {"field": "t", "type": "nominal"}
      }
    },
    {
      "data": {"name": "heading"},
      "mark": {"type": "text", "font": "Liberation Serif", "fontSize": 21, "color": "black", "align": "left", "baseline": "alphabetic"},
      "encoding": {
        "x": {"field": "k", "type": "quantitative", "scale": {"domain": [0, 4.487], "nice": false, "zero": false}, "axis": null},
        "y": {"field": "E", "type": "quantitative", "scale": {"domain": [-15, 12], "nice": false, "zero": false},
          "axis": {"orient": "left", "offset": 35, "values": [-14, -12, -10, -8, -6, -4, -2, 0, 2, 4, 6, 8, 10, 12],
            "labelExpr": "datum.value + '.'", "labelAngle": -90, "labelAlign": "center", "labelBaseline": "alphabetic", "labelPadding": 12,
            "labelFont": "Liberation Serif", "labelFontSize": 21, "labelColor": "black", "labelOverlap": false, "labelFlush": false, "labelBound": false,
            "tickSize": -10, "tickColor": "black", "tickWidth": 1, "domainColor": "black", "domainWidth": 1, "grid": false,
            "title": "Energy [eV]", "titleFont": "Liberation Serif", "titleFontSize": 22, "titleFontWeight": "normal", "titleColor": "black",
            "titleAngle": -90, "titleX": -60, "titleY": 322, "titleBaseline": "middle", "titleAlign": "center"}},
        "text": {"field": "t", "type": "nominal"}
      }
    },
    {
      "data": {"name": "arrows"},
      "mark": {"type": "line", "color": "#ee2b1d", "strokeWidth": 3.2, "interpolate": "catmull-rom"},
      "encoding": {
        "x": {"field": "k", "type": "quantitative", "scale": {"domain": [0, 4.487], "nice": false, "zero": false}, "axis": null},
        "y": {"field": "E", "type": "quantitative", "scale": {"domain": [-15, 12], "nice": false, "zero": false},
          "axis": {"orient": "left", "offset": 35, "values": [-14, -12, -10, -8, -6, -4, -2, 0, 2, 4, 6, 8, 10, 12],
            "labelExpr": "datum.value + '.'", "labelAngle": -90, "labelAlign": "center", "labelBaseline": "alphabetic", "labelPadding": 12,
            "labelFont": "Liberation Serif", "labelFontSize": 21, "labelColor": "black", "labelOverlap": false, "labelFlush": false, "labelBound": false,
            "tickSize": -10, "tickColor": "black", "tickWidth": 1, "domainColor": "black", "domainWidth": 1, "grid": false,
            "title": "Energy [eV]", "titleFont": "Liberation Serif", "titleFontSize": 22, "titleFontWeight": "normal", "titleColor": "black",
            "titleAngle": -90, "titleX": -60, "titleY": 322, "titleBaseline": "middle", "titleAlign": "center"}},
        "order": {"field": "i", "type": "quantitative"},
        "detail": {"field": "a", "type": "nominal"}
      }
    },
    {
      "data": {"name": "heads"},
      "transform": [{"filter": "datum.a === 'left'"}],
      "mark": {"type": "point", "shape": "triangle-up", "filled": true, "color": "#ee2b1d", "opacity": 1, "size": 200, "angle": 47},
      "encoding": {
        "x": {"field": "k", "type": "quantitative", "scale": {"domain": [0, 4.487], "nice": false, "zero": false}, "axis": null},
        "y": {"field": "E", "type": "quantitative", "scale": {"domain": [-15, 12], "nice": false, "zero": false},
          "axis": {"orient": "left", "offset": 35, "values": [-14, -12, -10, -8, -6, -4, -2, 0, 2, 4, 6, 8, 10, 12],
            "labelExpr": "datum.value + '.'", "labelAngle": -90, "labelAlign": "center", "labelBaseline": "alphabetic", "labelPadding": 12,
            "labelFont": "Liberation Serif", "labelFontSize": 21, "labelColor": "black", "labelOverlap": false, "labelFlush": false, "labelBound": false,
            "tickSize": -10, "tickColor": "black", "tickWidth": 1, "domainColor": "black", "domainWidth": 1, "grid": false,
            "title": "Energy [eV]", "titleFont": "Liberation Serif", "titleFontSize": 22, "titleFontWeight": "normal", "titleColor": "black",
            "titleAngle": -90, "titleX": -60, "titleY": 322, "titleBaseline": "middle", "titleAlign": "center"}}
      }
    },
    {
      "data": {"name": "heads"},
      "transform": [{"filter": "datum.a === 'right'"}],
      "mark": {"type": "point", "shape": "triangle-up", "filled": true, "color": "#ee2b1d", "opacity": 1, "size": 200, "angle": 295},
      "encoding": {
        "x": {"field": "k", "type": "quantitative", "scale": {"domain": [0, 4.487], "nice": false, "zero": false}, "axis": null},
        "y": {"field": "E", "type": "quantitative", "scale": {"domain": [-15, 12], "nice": false, "zero": false},
          "axis": {"orient": "left", "offset": 35, "values": [-14, -12, -10, -8, -6, -4, -2, 0, 2, 4, 6, 8, 10, 12],
            "labelExpr": "datum.value + '.'", "labelAngle": -90, "labelAlign": "center", "labelBaseline": "alphabetic", "labelPadding": 12,
            "labelFont": "Liberation Serif", "labelFontSize": 21, "labelColor": "black", "labelOverlap": false, "labelFlush": false, "labelBound": false,
            "tickSize": -10, "tickColor": "black", "tickWidth": 1, "domainColor": "black", "domainWidth": 1, "grid": false,
            "title": "Energy [eV]", "titleFont": "Liberation Serif", "titleFontSize": 22, "titleFontWeight": "normal", "titleColor": "black",
            "titleAngle": -90, "titleX": -60, "titleY": 322, "titleBaseline": "middle", "titleAlign": "center"}}
      }
    },
    {
      "data": {"name": "note"},
      "mark": {"type": "text", "font": "Liberation Sans", "fontSize": 27, "color": "#ee2b1d", "align": "left", "baseline": "middle"},
      "encoding": {
        "x": {"field": "k", "type": "quantitative", "scale": {"domain": [0, 4.487], "nice": false, "zero": false}, "axis": null},
        "y": {"field": "E", "type": "quantitative", "scale": {"domain": [-15, 12], "nice": false, "zero": false},
          "axis": {"orient": "left", "offset": 35, "values": [-14, -12, -10, -8, -6, -4, -2, 0, 2, 4, 6, 8, 10, 12],
            "labelExpr": "datum.value + '.'", "labelAngle": -90, "labelAlign": "center", "labelBaseline": "alphabetic", "labelPadding": 12,
            "labelFont": "Liberation Serif", "labelFontSize": 21, "labelColor": "black", "labelOverlap": false, "labelFlush": false, "labelBound": false,
            "tickSize": -10, "tickColor": "black", "tickWidth": 1, "domainColor": "black", "domainWidth": 1, "grid": false,
            "title": "Energy [eV]", "titleFont": "Liberation Serif", "titleFontSize": 22, "titleFontWeight": "normal", "titleColor": "black",
            "titleAngle": -90, "titleX": -60, "titleY": 322, "titleBaseline": "middle", "titleAlign": "center"}},
        "text": {"field": "t", "type": "nominal"}
      }
    }
  ],
  "resolve": {"axis": {"x": "independent"}},
  "config": {
    "view": {"stroke": "black", "strokeWidth": 1},
    "axis": {"grid": false}
  }
}
